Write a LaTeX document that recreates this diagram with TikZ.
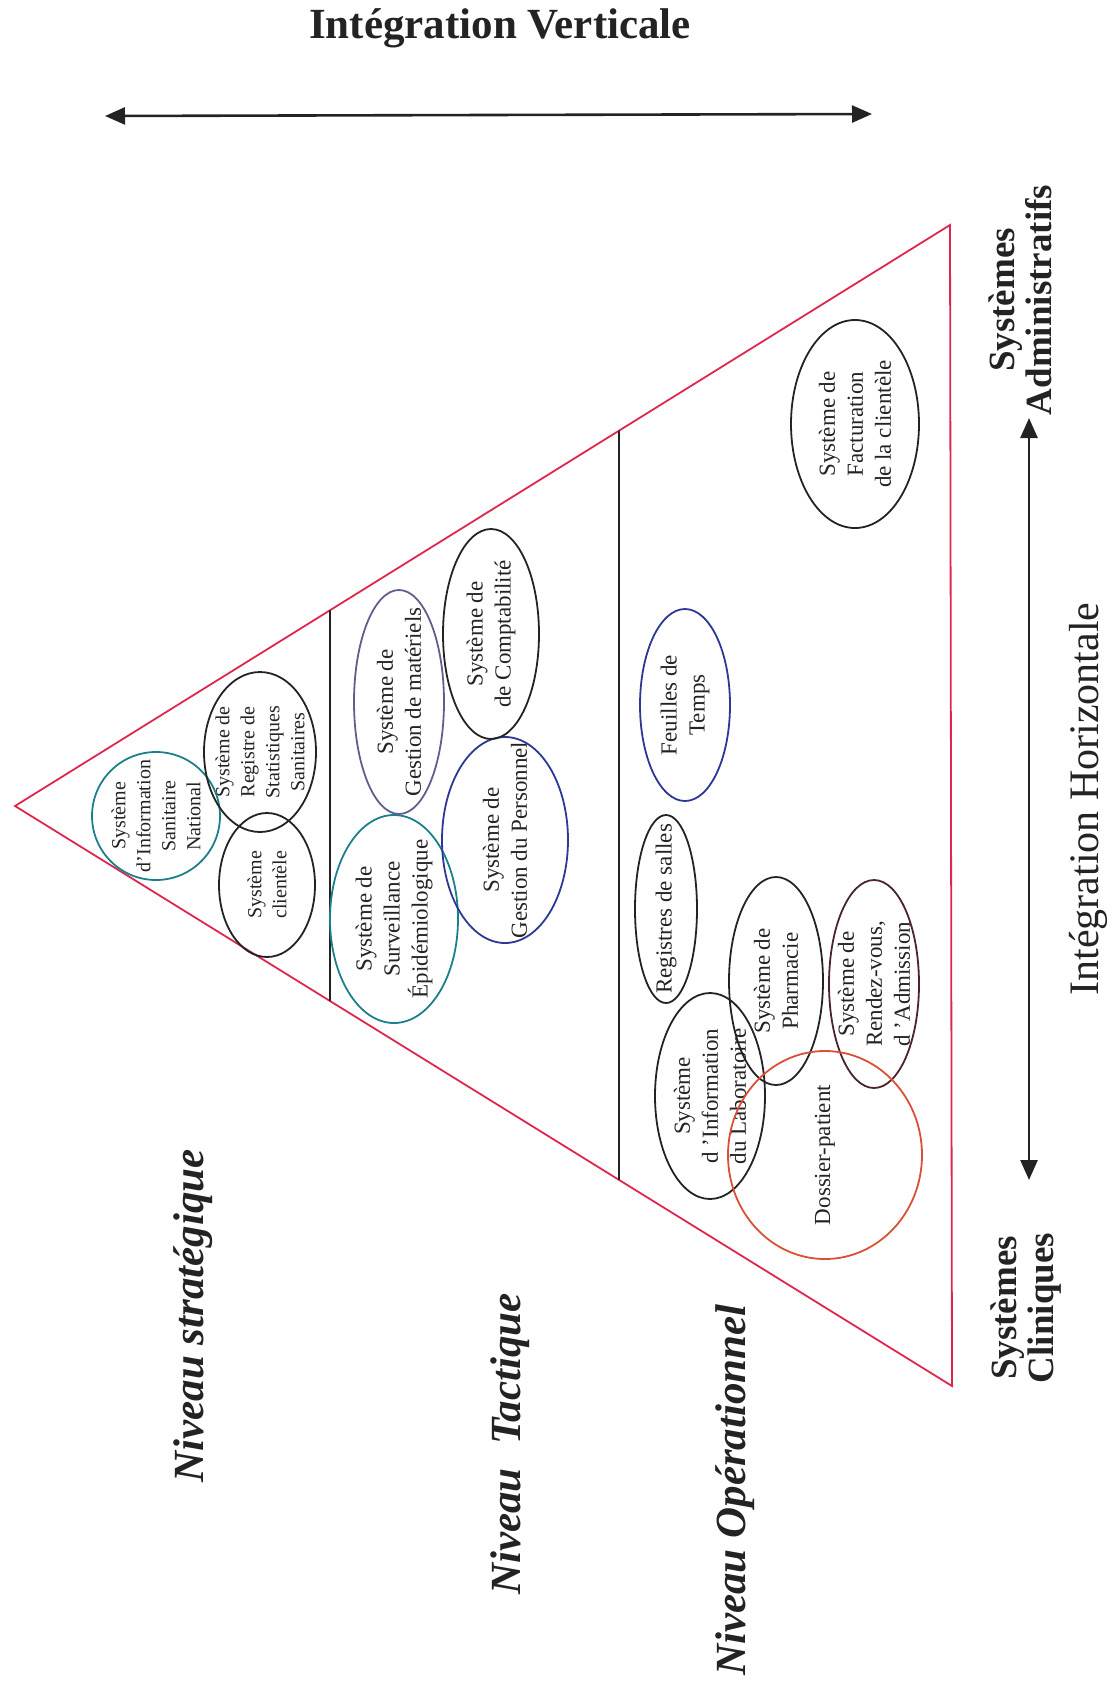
\documentclass[tikz,border=0pt]{standalone}
\usepackage{fontspec}
\setmainfont{Liberation Serif}
\usepackage{xcolor}
\usepackage{tikz}
\usetikzlibrary{calc, arrows.meta, positioning}

\definecolor{trired}{RGB}{222,38,78}
\definecolor{sisteal}{RGB}{28,128,140}
\definecolor{gesblue}{RGB}{45,55,150}
\definecolor{matgray}{RGB}{95,95,140}
\definecolor{dosred}{RGB}{218,80,55}
\definecolor{rdvbrown}{RGB}{75,35,45}
\definecolor{inkgray}{RGB}{35,35,35}

\begin{document}
\begin{tikzpicture}[x=1pt, y=-1pt]
    % Styles
    \tikzstyle{sys} = [rotate=90, align=center, inner sep=0pt, text=inkgray, font=\fontsize{23}{28}\selectfont]
    \tikzstyle{sysstrat} = [sys, font=\fontsize{20}{25}\selectfont]
    \tikzstyle{level} = [rotate=90, inner sep=0pt, text=inkgray, font=\fontsize{43}{50}\selectfont\bfseries\itshape]
    \tikzstyle{side} = [rotate=90, align=center, inner sep=0pt, text=inkgray, font=\fontsize{37}{37}\selectfont\bfseries]
    \tikzstyle{rim} = [line width=1.8pt]
    \tikzstyle{axis} = [line width=2.6pt, inkgray, {Triangle[length=20pt,width=17pt]}-{Triangle[length=20pt,width=17pt]}]

    \useasboundingbox (0,0) rectangle (1116,1681);

    % Vertical integration (top)
    \node[inner sep=0pt, text=inkgray, font=\fontsize{43}{50}\selectfont\bfseries] (vtitle) at (500,28) {Intégration Verticale};
    \coordinate (vleft) at (105,116);
    \coordinate (vright) at (872,114);
    \draw[axis] (vleft) -- (vright);

    % Pyramid
    \coordinate (apex) at (15,806);
    \coordinate (topr) at (950,225);
    \coordinate (botr) at (952,1386);
    \draw[rim, trired] (apex) -- (topr) -- (botr) -- cycle;

    % Level separators
    \coordinate (sep1t) at ($(apex)!0.3369!(topr)$);
    \coordinate (sep1b) at ($(apex)!0.3362!(botr)$);
    \coordinate (sep2t) at ($(apex)!0.646!(topr)$);
    \coordinate (sep2b) at ($(apex)!0.6446!(botr)$);
    \draw[rim, inkgray] (sep1t) -- (sep1b);
    \draw[rim, inkgray] (sep2t) -- (sep2b);

    % Strategic level
    \node[sysstrat] (sisn) at (156,816) {Système\\d’Information\\Sanitaire\\National};
    \node[sysstrat] (registre) at (260,752) {Système de\\Registre de\\Statistiques\\Sanitaires};
    \node[sysstrat] (clientele) at (267,885) {Système\\clientèle};
    \draw[rim, sisteal] (sisn) ellipse [x radius=64, y radius=64];
    \draw[rim, inkgray] (registre) ellipse [x radius=56, y radius=80];
    \draw[rim, inkgray] (clientele) ellipse [x radius=48, y radius=72];

    % Tactical level
    \node[sys] (surveillance) at (394,919) {Système de\\Surveillance\\Épidémiologique};
    \node[sys] (materiels) at (399,702) {Système de\\Gestion de matériels};
    \node[sys] (personnel) at (505,840) {Système de\\Gestion du Personnel};
    \node[sys] (compta) at (491,634) {Système de\\de Comptabilité};
    \draw[rim, sisteal] (surveillance) ellipse [x radius=64, y radius=104];
    \draw[rim, matgray] (materiels) ellipse [x radius=45, y radius=112];
    \draw[rim, gesblue] (personnel) ellipse [x radius=63, y radius=103];
    \draw[rim, inkgray] (compta) ellipse [x radius=48, y radius=105];

    % Operational level
    \node[sys] (feuilles) at (685,705) {Feuilles de\\Temps};
    \node[sys] (salles) at (666,909) {Registres de salles};
    \node[sys] (labo) at (710,1096) {Système\\d ’Information\\du Laboratoire};
    \node[sys] (pharmacie) at (776,981) {Système de\\Pharmacie};
    \node[sys] (rdv) at (874,984) {Système de\\Rendez-vous,\\d ’Admission};
    \node[sys] (dossier) at (825,1155) {Dossier-patient};
    \node[sys] (facturation) at (855,424) {Système de\\Facturation\\de la clientèle};
    \draw[rim, gesblue] (feuilles) ellipse [x radius=45, y radius=96];
    \draw[rim, inkgray] (salles) ellipse [x radius=31, y radius=94];
    \draw[rim, inkgray] (labo) ellipse [x radius=55, y radius=103];
    \draw[rim, inkgray] (pharmacie) ellipse [x radius=47, y radius=104];
    \draw[rim, rdvbrown] (rdv) ellipse [x radius=45, y radius=104];
    \draw[rim, dosred] (dossier) ellipse [x radius=97, y radius=104];
    \draw[rim, inkgray] (facturation) ellipse [x radius=64, y radius=104];

    % Level names
    \node[level] (strategique) at (193,1316) {Niveau stratégique};
    \node[level] (tactique) at (510,1444) {Niveau\hspace{0.3em} Tactique};
    \node[level] (operationnel) at (735,1490) {Niveau Opérationnel};

    % Horizontal integration (right)
    \node[side] (admin) at (1020,300) {Systèmes\\Administratifs};
    \node[side] (cliniques) at (1026,1308) {Systèmes\\Cliniques};
    \coordinate (htop) at (1029,418);
    \coordinate (hbot) at (1029,1180);
    \draw[axis] (hbot) -- (htop);
    \node[rotate=90, inner sep=0pt, text=inkgray, font=\fontsize{42}{50}\selectfont] (htitle) at (1088,799) {Intégration Horizontale};
\end{tikzpicture}
\end{document}
